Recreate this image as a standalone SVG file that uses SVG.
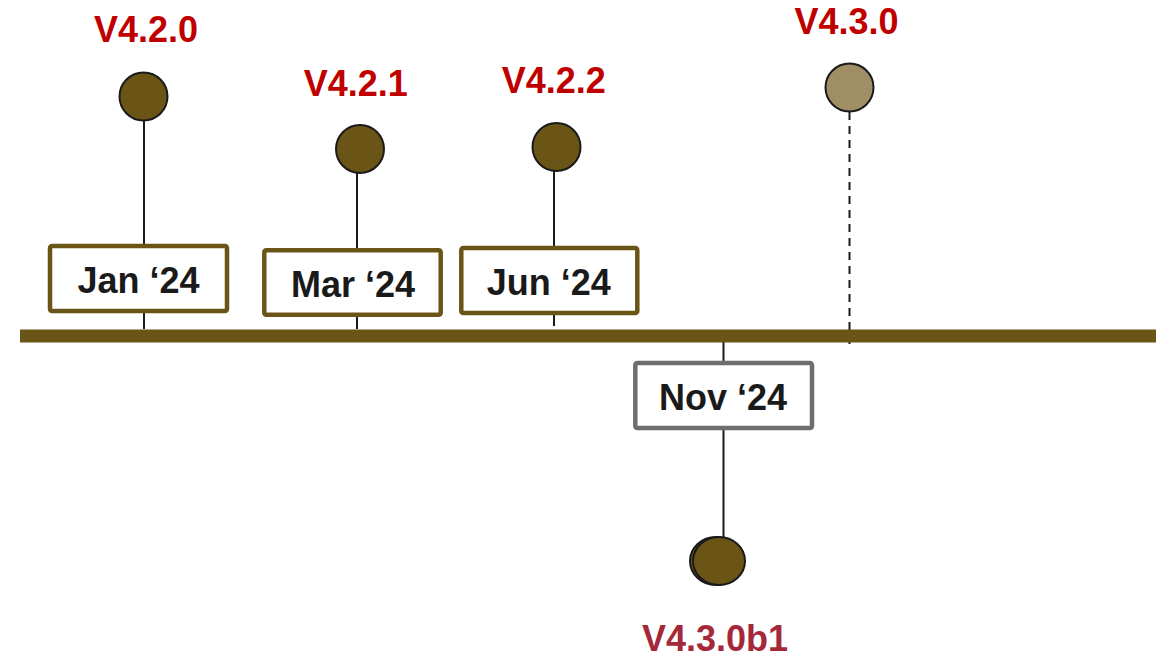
<svg xmlns="http://www.w3.org/2000/svg" width="1173" height="659" viewBox="0 0 1173 659">
<style>
.ver{font-family:"Liberation Sans",Arial,sans-serif;font-weight:bold;font-size:36px;fill:#c00000;text-anchor:middle}
.ver2{fill:#a4283a}
.date{font-family:"Liberation Sans",Arial,sans-serif;font-weight:bold;font-size:36px;fill:#1a1a1a;text-anchor:middle}
.box{fill:#ffffff;stroke:#6b5516;stroke-width:4.5}
.boxg{fill:#ffffff;stroke:#6e6e6e;stroke-width:4.5}
.dot{fill:#6b5516;stroke:#1a1a1a;stroke-width:2}
.dotl{fill:#a08f65;stroke:#1a1a1a;stroke-width:2}
.ln{stroke:#1a1a1a;stroke-width:2;fill:none}
.dash{stroke:#1a1a1a;stroke-width:2;fill:none;stroke-dasharray:8 6}
</style>
<rect width="1173" height="659" fill="#ffffff"/>
<g id="connectors">
<line class="ln" x1="144" y1="121" x2="144" y2="329"/>
<line class="ln" x1="357" y1="173" x2="357" y2="329"/>
<line class="ln" x1="554" y1="171" x2="554" y2="326"/>
<line class="ln" x1="723.5" y1="342" x2="723.5" y2="537"/>
<line class="dash" x1="849.5" y1="112" x2="849.5" y2="344"/>
</g>
<g id="timeline">
<rect x="20" y="329.5" width="1136" height="13" fill="#6b5516"/>
</g>
<g id="v420">
<circle class="dot" cx="143.5" cy="96.5" r="24"/>
<text class="ver" x="146" y="41.5">V4.2.0</text>
</g>
<g id="jan">
<rect class="box" x="50" y="246" width="177" height="65" rx="2"/>
<text class="date" x="138.5" y="293">Jan ‘24</text>
</g>
<g id="v421">
<circle class="dot" cx="360" cy="149" r="24"/>
<text class="ver" x="355.7" y="95.5">V4.2.1</text>
</g>
<g id="mar">
<rect class="box" x="264.3" y="250.3" width="176.4" height="64.4" rx="2"/>
<text class="date" x="353" y="297">Mar ‘24</text>
</g>
<g id="v422">
<circle class="dot" cx="556.5" cy="147" r="24"/>
<text class="ver" x="553.8" y="93.3">V4.2.2</text>
</g>
<g id="jun">
<rect class="box" x="461.3" y="248" width="176" height="65" rx="2"/>
<text class="date" x="548.7" y="295">Jun ‘24</text>
</g>
<g id="nov">
<rect class="boxg" x="635.3" y="363" width="176.7" height="65" rx="2"/>
<text class="date" x="723" y="410">Nov ‘24</text>
</g>
<g id="v430b1">
<ellipse class="dot" cx="716" cy="561" rx="26" ry="24"/>
<ellipse class="dot" cx="719" cy="561" rx="26" ry="24"/>
<text class="ver ver2" x="715" y="651">V4.3.0b1</text>
</g>
<g id="v430">
<circle class="dotl" cx="849.5" cy="87.5" r="24"/>
<text class="ver" x="846.5" y="34.3">V4.3.0</text>
</g>
</svg>
